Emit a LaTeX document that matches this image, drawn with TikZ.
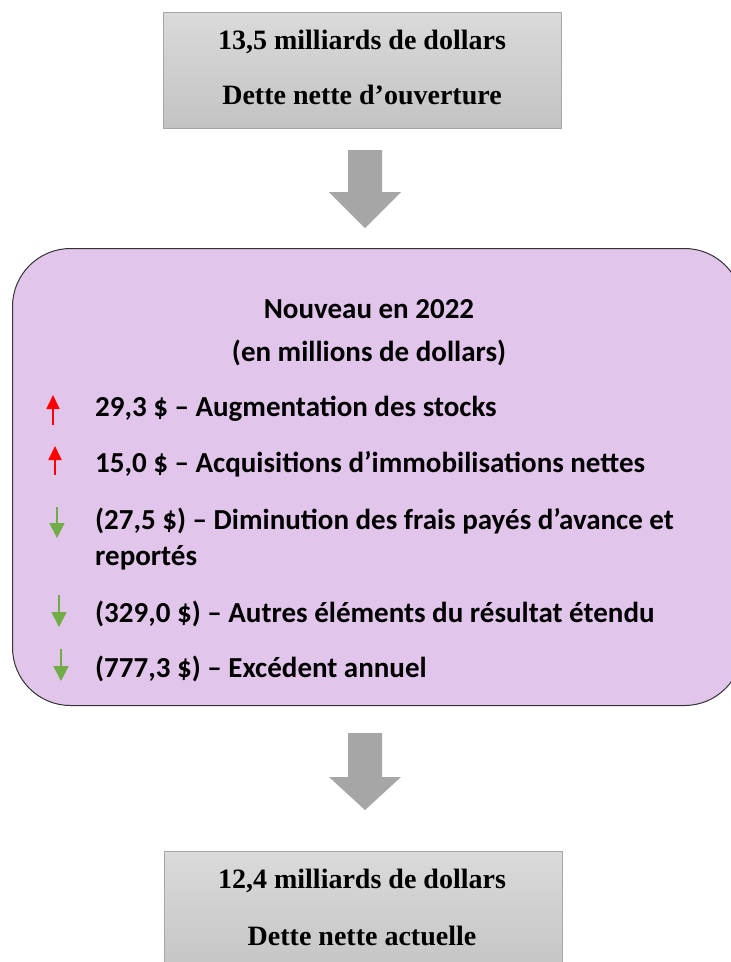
\documentclass[tikz,border=0pt]{standalone}
\usepackage{fontspec}
\setmainfont{Liberation Serif}
\newfontfamily\calib{Carlito}
\usetikzlibrary{arrows.meta}
\definecolor{boxgrayA}{HTML}{DADADA}
\definecolor{boxgrayB}{HTML}{C3C3C3}
\definecolor{boxedge}{HTML}{A6A6A6}
\definecolor{bigarrow}{HTML}{A6A6A6}
\definecolor{lilac}{HTML}{E2C5EA}
\definecolor{upred}{HTML}{FF0000}
\definecolor{downgreen}{HTML}{70AD47}
\tikzset{
  x=1pt,y=-1pt,
  graybox/.style={draw=boxedge,line width=1pt,top color=boxgrayA,bottom color=boxgrayB,minimum width=398pt,anchor=north,inner sep=0pt},
  serifline/.style={font=\fontsize{28}{32}\selectfont\bfseries,anchor=base,inner sep=0pt},
  caltext/.style={font=\calib\fontsize{29}{34}\selectfont\bfseries,anchor=base west,inner sep=0pt},
  calcenter/.style={font=\calib\fontsize{29}{34}\selectfont\bfseries,anchor=base,inner sep=0pt},
  uparrow/.style={draw=upred,line width=1.8pt,-{Triangle[length=14pt,width=13pt]}},
  downarrow/.style={draw=downgreen,line width=1.8pt,-{Triangle[length=15pt,width=15pt]}},
  blockarrow/.style={fill=bigarrow,draw=none}
}
\begin{document}
\begin{tikzpicture}
\useasboundingbox (0,0) rectangle (731,962);
\fill[white] (0,0) rectangle (731,962);
% top box
\node[graybox,minimum height=116pt] (top) at (362,12) {};
\node[serifline] (t1) at (362,49) {13,5 milliards de dollars};
\node[serifline] (t2) at (362,104) {Dette nette d’ouverture};
% first block arrow
\coordinate (a1) at (365,150);
\fill[blockarrow] ([xshift=-17pt]a1) -- ([xshift=17pt]a1) -- ([xshift=17pt,yshift=-42pt]a1) -- ([xshift=36pt,yshift=-42pt]a1) -- ([yshift=-78pt]a1) -- ([xshift=-36pt,yshift=-42pt]a1) -- ([xshift=-17pt,yshift=-42pt]a1) -- cycle;
% purple box
\node[draw=black!80,line width=1pt,fill=lilac,rounded corners=58pt,minimum width=730pt,minimum height=457pt,anchor=north west,inner sep=0pt] (mid) at (12,248) {};
\node[calcenter] (h1) at (369,318) {Nouveau en 2022};
\node[calcenter] (h2) at (369,361) {(en millions de dollars)};
\node[caltext] (i1) at (95,416) {29,3 \$ – Augmentation des stocks};
\node[caltext] (i2) at (95,472) {15,0 \$ – Acquisitions d’immobilisations nettes};
\node[caltext] (i3) at (95,529) {(27,5 \$) – Diminution des frais payés d’avance et};
\node[caltext] (i3b) at (95,565) {reportés};
\node[caltext] (i4) at (95,622) {(329,0 \$) – Autres éléments du résultat étendu};
\node[caltext] (i5) at (95,677) {(777,3 \$) – Excédent annuel};
\coordinate (r1s) at (53,425); \coordinate (r1e) at (53,395);
\coordinate (r2s) at (55,475); \coordinate (r2e) at (55,446);
\coordinate (g1s) at (57,507); \coordinate (g1e) at (57,538);
\coordinate (g2s) at (59,595); \coordinate (g2e) at (59,627);
\coordinate (g3s) at (61,649); \coordinate (g3e) at (61,681);
\draw[uparrow] (r1s) -- (r1e);
\draw[uparrow] (r2s) -- (r2e);
\draw[downarrow] (g1s) -- (g1e);
\draw[downarrow] (g2s) -- (g2e);
\draw[downarrow] (g3s) -- (g3e);
% second block arrow
\coordinate (a2) at (365,733);
\fill[blockarrow] ([xshift=-17pt]a2) -- ([xshift=17pt]a2) -- ([xshift=17pt,yshift=-44pt]a2) -- ([xshift=36pt,yshift=-44pt]a2) -- ([yshift=-77pt]a2) -- ([xshift=-36pt,yshift=-44pt]a2) -- ([xshift=-17pt,yshift=-44pt]a2) -- cycle;
% bottom box
\node[graybox,minimum height=130pt] (bot) at (363,851) {};
\node[serifline] (b1) at (362,888) {12,4 milliards de dollars};
\node[serifline] (b2) at (362,945) {Dette nette actuelle};
\end{tikzpicture}
\end{document}
